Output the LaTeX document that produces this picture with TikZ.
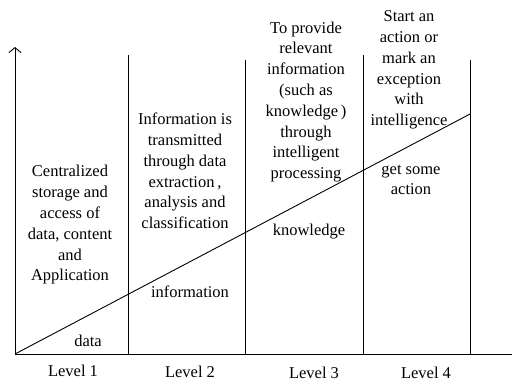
\documentclass[tikz,border=0pt]{standalone}
\usepackage{fontspec}
\newfontfamily\serifface{Liberation Serif}
\usetikzlibrary{arrows.meta}
\begin{document}
\begin{tikzpicture}[x=1bp,y=-1bp,
  axisline/.style={line width=0.9bp,black},
  txt/.style={inner sep=0pt,align=center,font=\serifface\fontsize{16.5bp}{20.8bp}\selectfont},
  lvl/.style={txt}]
\useasboundingbox (0,0) rectangle (512,382);
% axes
\coordinate (O) at (15,354);
\coordinate (Ytop) at (15,47);
\coordinate (Xend) at (512,354);
\draw[axisline,-{Straight Barb[length=5bp,width=12bp]}] (O) -- (Ytop);
\draw[axisline] (O) -- (Xend);
% level separators
\coordinate (s1t) at (128,55);  \coordinate (s1b) at (128,354);
\coordinate (s2t) at (245,60);  \coordinate (s2b) at (245,354);
\coordinate (s3t) at (363,55);  \coordinate (s3b) at (363,354);
\coordinate (s4t) at (470,60);  \coordinate (s4b) at (470,354);
\foreach \i in {1,...,4} \draw[axisline] (s\i t) -- (s\i b);
% rising diagonal
\coordinate (D) at (470,114);
\draw[axisline] (O) -- (D);
% column descriptions
\node[txt] (c1) at (70,225) {Centralized\\storage and\\access of\\data, content\\and\\Application};
\node[txt] (c2) at (185,171) {Information is\\transmitted\\through data\\extraction\,,\\analysis and\\classification};
\node[txt] (c3) at (306,102) {To provide\\relevant\\information\\(such as\\knowledge\,)\\through\\intelligent\\processing};
\node[txt] (c4) at (409,70) {Start an\\action or\\mark an\\exception\\with\\intelligence};
\node[txt] (g4) at (411,180) {get some\\action};
% stage words
\node[txt] (w1) at (88,341) {data};
\node[txt] (w2) at (190,292) {information};
\node[txt] (w3) at (309,232) {knowledge};
% level labels
\node[lvl] (l1) at (73,371) {Level 1};
\node[lvl] (l2) at (190,372) {Level 2};
\node[lvl] (l3) at (314,373) {Level 3};
\node[lvl] (l4) at (426,373) {Level 4};
\end{tikzpicture}
\end{document}
